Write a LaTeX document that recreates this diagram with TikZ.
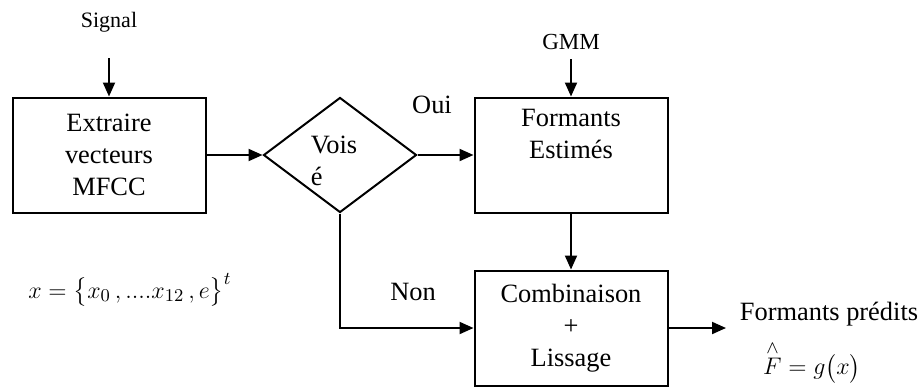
\documentclass[tikz,border=0pt,12pt]{standalone}
\usepackage{amsmath}
\usepackage{fontspec}
\setmainfont{Liberation Serif}
\usetikzlibrary{shapes.geometric,arrows.meta}

\begin{document}
\begin{tikzpicture}[x=0.5pt,y=-0.5pt,
		font=\fontsize{13.2}{16}\selectfont,
		block/.style={rectangle, draw, line width=1pt, minimum width=96.5pt, minimum height=57.5pt, align=center},
		decision/.style={diamond, draw, line width=1pt, inner sep=0pt, minimum width=76.5pt, minimum height=57.5pt},
		flow/.style={line width=1pt, -{Triangle[length=7pt,width=6pt]}}]
		\useasboundingbox (0,0) rectangle (920,386);
		\node (signal) at (109,22) {\fontsize{11}{13}\selectfont Signal};
		\node (gmm) at (571,42) {\fontsize{11.5}{13}\selectfont GMM};
		\node (extract) at (109,155) [block] {Extraire\\vecteurs\\MFCC};
		\node (voise) at (340,155) [decision] {};
		\node (voistxt) at (334,161) [align=left] {Vois\\é};
		\node (estim) at (571,155) [block] {Formants\\Estimés\\\strut};
		\node (combin) at (571,328) [block] {Combinaison\\+\\Lissage};
		\node (oui) at (432,105) {Oui};
		\node (non) at (413,292) {Non};
		\node (vect) at (130,290) [font=\fontsize{12.5}{14}\selectfont] {$x = \bigl\{x_0\,,....x_{12}\,,e\bigr\}^{t}$};
		\node (predit) at (829,314) [inner sep=1pt] {Formants prédits};
		\node (fhat) at (812,362) [inner sep=1pt] {$\overset{\wedge}{F} = g\bigl(x\bigr)$};
		\coordinate (sigin) at (109,58);
		\coordinate (gmmin) at (571,59);
		\coordinate (out) at (726,328);
		
		% connexions
		\draw[flow] (sigin) -- (extract);
		\draw[flow] (gmmin) -- (estim);
		\draw[flow] (extract) -- (voise);
		\draw[flow] (voise) -- (estim);
		\draw[flow] (estim) -- (combin);
		\draw[flow] (voise.south) |- (combin.west);
		\draw[flow] (combin) -- (out);
	\end{tikzpicture}
\end{document}
